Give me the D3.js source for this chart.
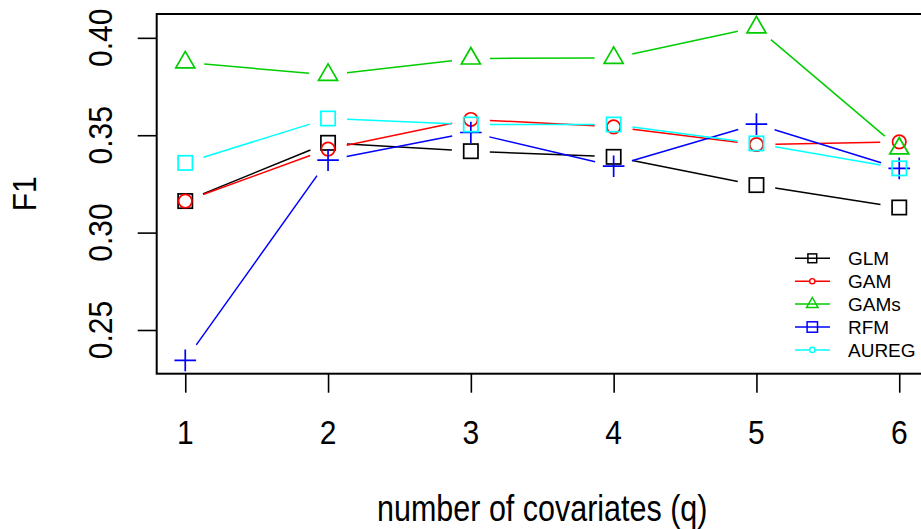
<!DOCTYPE html>
<html>
<head>
<meta charset="utf-8">
<script src="https://cdn.jsdelivr.net/npm/d3@7"></script>
<style>
  html, body { margin: 0; padding: 0; background: #ffffff; }
  svg { display: block; }
  text { font-family: "Liberation Sans", Arial, sans-serif; fill: #000; }
</style>
</head>
<body>
<svg id="chart" width="921" height="529"></svg>
<script>
// ---- data -------------------------------------------------------------
const categories = [1, 2, 3, 4, 5, 6];
const seriesNames = ["GLM", "GAM", "GAMs", "RFM", "AUREG"];
const glmValues   = [0.3162, 0.3461, 0.3418, 0.3389, 0.3244, 0.3129];
const gamValues   = [0.3162, 0.3429, 0.3581, 0.3543, 0.3452, 0.3466];
const gamsValues  = [0.3874, 0.3810, 0.3894, 0.3897, 0.4054, 0.3432];
const rfmValues   = [0.2344, 0.3372, 0.3514, 0.3341, 0.3557, 0.3330];
const auregValues = [0.3358, 0.3586, 0.3555, 0.3555, 0.3458, 0.3330];
const yTickValues = [0.25, 0.30, 0.35, 0.40];
const yTickLabels = ["0.25", "0.30", "0.35", "0.40"];
const xTickLabels = ["1", "2", "3", "4", "5", "6"];
const xAxisTitle = "number of covariates (q)";
const yAxisTitle = "F1";

// ---- styling ----------------------------------------------------------
const seriesValues = [glmValues, gamValues, gamsValues, rfmValues, auregValues];
const seriesColors = ["#000000", "#ff0000", "#00cd00", "#0000ff", "#00ffff"];
const plotSymbols = ["square", "circle", "triangle", "plus", "square"];
const legendSymbols = ["squareSmall", "dot", "triangleSmall", "squareMid", "dot"];

const plot = { left: 156.7, top: 14, right: 927.8, bottom: 373.7 };

const svg = d3.select("#chart");

// R-style axis extents: data range widened by 4% on each side
function padded(extent) {
  const r = extent[1] - extent[0];
  return [extent[0] - 0.04 * r, extent[1] + 0.04 * r];
}
const allValues = seriesValues.flat();
const x = d3.scaleLinear().domain(padded(d3.extent(categories))).range([plot.left, plot.right]);
const y = d3.scaleLinear().domain(padded(d3.extent(allValues))).range([plot.bottom, plot.top]);

// ---- symbols ----------------------------------------------------------
function drawSymbol(g, type, color) {
  const sw = 1.7;
  switch (type) {
    case "square":
      g.append("rect").attr("x", -7.15).attr("y", -7.15).attr("width", 14.3).attr("height", 14.3)
        .attr("fill", "none").attr("stroke", color).attr("stroke-width", sw);
      break;
    case "squareSmall":
      g.append("rect").attr("x", -4.4).attr("y", -4.4).attr("width", 8.8).attr("height", 8.8)
        .attr("fill", "none").attr("stroke", color).attr("stroke-width", 1.5);
      break;
    case "squareMid":
      g.append("rect").attr("x", -5.2).attr("y", -5.2).attr("width", 10.4).attr("height", 10.4)
        .attr("fill", "none").attr("stroke", color).attr("stroke-width", 1.5);
      break;
    case "circle":
      g.append("circle").attr("r", 6.7)
        .attr("fill", "none").attr("stroke", color).attr("stroke-width", sw);
      break;
    case "dot":
      g.append("circle").attr("r", 2.6)
        .attr("fill", "#fff").attr("stroke", color).attr("stroke-width", 1.4);
      break;
    case "triangle":
      g.append("path").attr("d", "M0,-11L9.5,5.5L-9.5,5.5Z")
        .attr("fill", "none").attr("stroke", color).attr("stroke-width", sw);
      break;
    case "triangleSmall":
      g.append("path").attr("d", "M0,-6.6L5.7,3.3L-5.7,3.3Z")
        .attr("fill", "none").attr("stroke", color).attr("stroke-width", 1.5);
      break;
    case "plus":
      g.append("path").attr("d", "M-10.8,0H10.8M0,-10.8V10.8")
        .attr("fill", "none").attr("stroke", color).attr("stroke-width", sw);
      break;
  }
}

// ---- series: lines broken around each point, then the points ----------
const gap = 19;
seriesValues.forEach((vals, si) => {
  const color = seriesColors[si];
  const pts = categories.map((c, i) => [x(c), y(vals[i])]);
  const g = svg.append("g");
  for (let i = 0; i < pts.length - 1; i++) {
    const [x0, y0] = pts[i], [x1, y1] = pts[i + 1];
    const len = Math.hypot(x1 - x0, y1 - y0);
    if (len <= 2 * gap) continue;
    const f = gap / len;
    g.append("line")
      .attr("x1", x0 + f * (x1 - x0)).attr("y1", y0 + f * (y1 - y0))
      .attr("x2", x1 - f * (x1 - x0)).attr("y2", y1 - f * (y1 - y0))
      .attr("stroke", color).attr("stroke-width", 1.5);
  }
  pts.forEach(p => {
    drawSymbol(g.append("g").attr("transform", `translate(${p[0]},${p[1]})`), plotSymbols[si], color);
  });
});

// ---- box and axes -----------------------------------------------------
svg.append("rect")
  .attr("x", plot.left).attr("y", plot.top)
  .attr("width", plot.right - plot.left).attr("height", plot.bottom - plot.top)
  .attr("fill", "none").attr("stroke", "#000").attr("stroke-width", 2);

const tickLen = 19;
const xAxis = d3.axisBottom(x).tickValues(categories).tickSize(tickLen).tickFormat(() => "");
const gx = svg.append("g").attr("transform", `translate(0,${plot.bottom})`).call(xAxis);
gx.select(".domain").remove();
gx.selectAll(".tick line").attr("stroke", "#000").attr("stroke-width", 1.6);

const yAxis = d3.axisLeft(y).tickValues(yTickValues).tickSize(tickLen).tickFormat(() => "");
const gy = svg.append("g").attr("transform", `translate(${plot.left},0)`).call(yAxis);
gy.select(".domain").remove();
gy.selectAll(".tick line").attr("stroke", "#000").attr("stroke-width", 1.6);

// tick labels (glyphs drawn slightly taller than the stock face)
const tickFont = 30, tickStretch = 1.1;
const capH = 0.716 * tickFont * tickStretch;
categories.forEach((c, i) => {
  svg.append("text")
    .attr("transform", `translate(${x(c)},${443.5}) scale(1,${tickStretch})`)
    .attr("text-anchor", "middle").attr("font-size", tickFont)
    .text(xTickLabels[i]);
});
yTickValues.forEach((v, i) => {
  svg.append("text")
    .attr("transform", `translate(${111.7},${y(v)}) rotate(-90) scale(1,${tickStretch})`)
    .attr("text-anchor", "middle").attr("font-size", tickFont)
    .text(yTickLabels[i]);
});

// axis titles
svg.append("text")
  .attr("transform", `translate(${(plot.left + plot.right) / 2},521) scale(1,1.2)`)
  .attr("text-anchor", "middle").attr("font-size", 30.5)
  .text(xAxisTitle);
svg.append("text")
  .attr("transform", `translate(36,${(plot.top + plot.bottom) / 2}) rotate(-90) scale(1,${tickStretch})`)
  .attr("text-anchor", "middle").attr("font-size", tickFont)
  .text(yAxisTitle);

// ---- legend -----------------------------------------------------------
const legend = svg.append("g").attr("transform", "translate(795,258.3)");
const rowStep = 22.9;
seriesNames.forEach((name, i) => {
  const row = legend.append("g").attr("transform", `translate(0,${i * rowStep})`);
  row.append("line").attr("x1", 0).attr("x2", 35).attr("y1", 0).attr("y2", 0)
    .attr("stroke", seriesColors[i]).attr("stroke-width", 1.5);
  drawSymbol(row.append("g").attr("transform", "translate(17.3,0)"), legendSymbols[i], seriesColors[i]);
  row.append("text").attr("x", 53).attr("y", 6.8)
    .attr("font-size", 19).text(name);
});
</script>
</body>
</html>
